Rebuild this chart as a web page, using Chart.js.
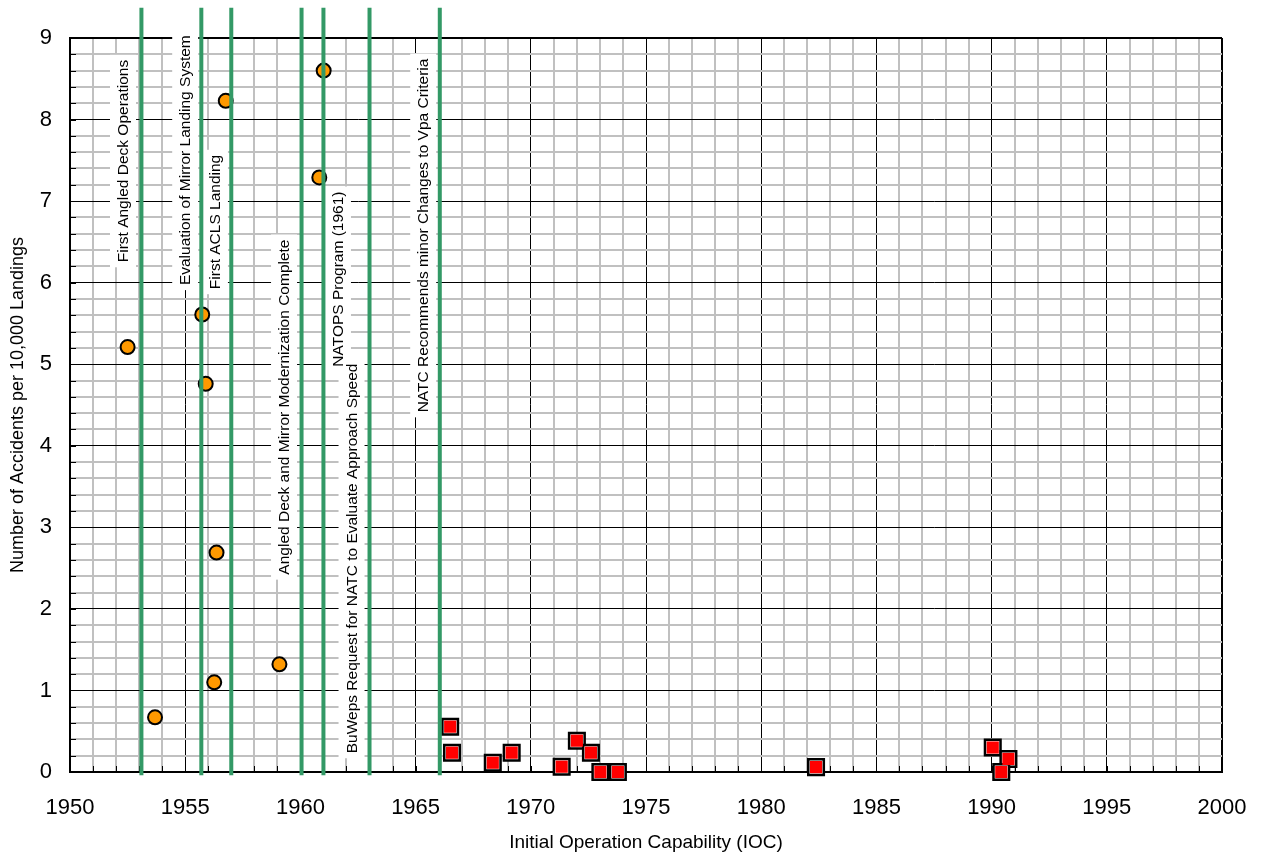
<!DOCTYPE html>
<html lang="en">
<head>
  <meta charset="UTF-8">
  <title>Accidents per 10,000 Landings vs IOC</title>
  <style>
    body {
      margin: 0;
      background: #ffffff;
    }

    #wrap {
      width: 1262px;
      height: 853px;
    }
  </style>
</head>
<body>
  <div id="wrap">
    <canvas id="chart" width="1262" height="853"></canvas>
  </div>

  <script src="https://cdn.jsdelivr.net/npm/chart.js"></script>
  <script>
    // orange circles (older aircraft)
    const earlyYears = [1952.5, 1953.69, 1955.74, 1955.89, 1956.26, 1956.36, 1956.76, 1959.09, 1960.82, 1961.01];
    const earlyRates = [5.21, 0.67, 5.61, 4.76, 1.10, 2.69, 8.23, 1.32, 7.29, 8.60];

    // red squares (newer aircraft)
    const laterYears = [1966.5, 1966.58, 1968.35, 1969.17, 1971.34, 1972.0, 1972.61, 1973.02, 1973.78, 1982.38, 1990.05, 1990.73, 1990.42];
    const laterRates = [0.556, 0.237, 0.114, 0.237, 0.065, 0.384, 0.237, 0.0, 0.0, 0.06, 0.30, 0.16, 0.0];

    // green milestone lines
    const milestoneYears = [1953.1, 1955.7, 1957.0, 1960.05, 1961.0, 1963.0, 1966.05];

    // milestone texts, with the point (year, rate) where each text starts
    const eventTexts = [
      "First Angled Deck Operations",
      "Evaluation of Mirror Landing System",
      "First ACLS Landing",
      "Angled Deck and Mirror Modernization Complete",
      "NATOPS Program (1961)",
      "BuWeps Request for NATC to Evaluate Approach Speed",
      "NATC Recommends minor Changes to Vpa Criteria"
    ];
    const eventYears = [1952.3, 1955.0, 1956.29, 1959.29, 1961.63, 1962.22, 1965.33];
    const eventTextBase = [6.25, 5.97, 5.92, 2.42, 4.97, 0.23, 4.41];

    const xTickLabels = [1950, 1955, 1960, 1965, 1970, 1975, 1980, 1985, 1990, 1995, 2000];
    const yTickLabels = [0, 1, 2, 3, 4, 5, 6, 7, 8, 9];

    const FONT = '"Liberation Sans", Arial, sans-serif';
    const toPoints = (xs, ys) => xs.map((x, i) => ({ x: x, y: ys[i] }));
    const isIn = (list, v) => list.some(t => Math.abs(t - v) < 1e-6);

    const milestoneSets = milestoneYears.map(yr => ({
      type: "line",
      data: [{ x: yr, y: -0.04 }, { x: yr, y: 9.37 }],
      borderColor: "#339966",
      borderWidth: 4,
      pointRadius: 0,
      clip: false,
      order: 0
    }));

    // white boxed texts + short inner tick marks, drawn on top of the grid
    const eventLabelPlugin = {
      id: "eventLabels",
      beforeDatasetsDraw(chart) {
        const { ctx, chartArea, scales: { x, y } } = chart;
        ctx.save();
        ctx.font = "15.5px " + FONT;
        const spots = eventTexts.map((text, i) => ({
          text: text,
          px: x.getPixelForValue(eventYears[i]),
          py: y.getPixelForValue(eventTextBase[i]),
          w: ctx.measureText(text).width
        }));
        // boxes first so no box hides another text
        ctx.fillStyle = "#ffffff";
        spots.forEach(s => ctx.fillRect(s.px - 13, s.py - s.w - 5, 26, s.w + 10));
        ctx.fillStyle = "#000000";
        ctx.textBaseline = "middle";
        spots.forEach(s => {
          ctx.save();
          ctx.translate(s.px, s.py);
          ctx.rotate(-Math.PI / 2);
          ctx.fillText(s.text, 0, 1);
          ctx.restore();
        });

        ctx.strokeStyle = "#000000";
        ctx.lineWidth = 1;
        ctx.beginPath();
        y.ticks.forEach(t => {
          const py = Math.round(y.getPixelForValue(t.value)) + 0.5;
          ctx.moveTo(chartArea.left, py);
          ctx.lineTo(chartArea.left + 6, py);
        });
        x.ticks.forEach(t => {
          const px = Math.round(x.getPixelForValue(t.value)) + 0.5;
          ctx.moveTo(px, chartArea.bottom);
          ctx.lineTo(px, chartArea.bottom - 6);
        });
        ctx.stroke();
        ctx.restore();
      }
    };

    function gridColor(step) {
      return c => (Math.abs(c.tick.value / step - Math.round(c.tick.value / step)) < 1e-6 ? "#000000" : "#c0c0c0");
    }
    function gridWidth(step, max) {
      return c => {
        const v = c.tick.value;
        if (Math.abs(v - max) < 1e-6) return 2;
        return Math.abs(v / step - Math.round(v / step)) < 1e-6 ? 1 : 2;
      };
    }

    Chart.defaults.color = "#000000";
    Chart.defaults.font.family = FONT;

    const ctx = document.getElementById("chart").getContext("2d");
    new Chart(ctx, {
      type: "scatter",
      data: {
        datasets: [
          ...milestoneSets,
          {
            data: toPoints(earlyYears, earlyRates),
            pointStyle: "circle",
            pointRadius: 7,
            backgroundColor: "#ff9900",
            borderColor: "#000000",
            borderWidth: 2,
            order: 1
          },
          {
            data: toPoints(laterYears, laterRates),
            pointStyle: "rect",
            pointRadius: 11,
            backgroundColor: "#ffffff",
            borderColor: "#000000",
            borderWidth: 2.5,
            clip: false,
            order: 2
          },
          {
            data: toPoints(laterYears, laterRates),
            pointStyle: "rect",
            pointRadius: 8.6,
            backgroundColor: "#ff0000",
            borderWidth: 0,
            clip: false,
            order: 1
          }
        ]
      },
      options: {
        responsive: false,
        animation: false,
        layout: { padding: { top: 38, right: 40, bottom: 0, left: 0 } },
        plugins: {
          legend: { display: false },
          tooltip: { enabled: false }
        },
        scales: {
          x: {
            type: "linear",
            min: 1950,
            max: 2000,
            afterFit: s => { s.height = 81; },
            border: { color: "#000000", width: 2 },
            grid: {
              drawTicks: false,
              color: gridColor(5),
              lineWidth: gridWidth(5, 2000)
            },
            ticks: {
              stepSize: 1,
              autoSkip: false,
              maxRotation: 0,
              minRotation: 0,
              padding: 10,
              font: { size: 22, lineHeight: 2.33 },
              callback: v => (isIn(xTickLabels, v) ? String(Math.round(v)) : "")
            },
            title: {
              display: true,
              text: "Initial Operation Capability (IOC)",
              font: { size: 19 },
              padding: { top: 0, bottom: -1 }
            }
          },
          y: {
            min: 0,
            max: 9,
            afterFit: s => { s.width = 70; },
            border: { color: "#000000", width: 2 },
            grid: {
              drawTicks: false,
              color: gridColor(1),
              lineWidth: gridWidth(1, 9)
            },
            ticks: {
              stepSize: 0.2,
              autoSkip: false,
              padding: 18,
              font: { size: 22 },
              callback: v => (isIn(yTickLabels, v) ? String(Math.round(v)) : "")
            },
            title: {
              display: true,
              text: "Number of Accidents per 10,000 Landings",
              font: { size: 18 },
              padding: { top: 7, bottom: 0 }
            }
          }
        }
      },
      plugins: [eventLabelPlugin]
    });
  </script>
</body>
</html>
